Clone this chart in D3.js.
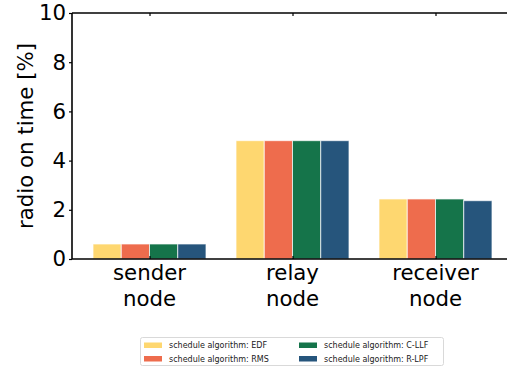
<!DOCTYPE html>
<html><head><meta charset="utf-8">
<script src="https://cdn.jsdelivr.net/npm/d3@7"></script>
<style>body{margin:0;background:#fff;} svg{display:block;font-family:"DejaVu Sans",sans-serif;}</style>
</head><body>
<svg id="c" width="507" height="367"></svg>
<script>
const categories = ["sender\nnode", "relay\nnode", "receiver\nnode"];
const seriesNames = ["schedule algorithm: EDF", "schedule algorithm: RMS", "schedule algorithm: C-LLF", "schedule algorithm: R-LPF"];
const seriesColors = ["#FED770", "#EE6C4D", "#15744A", "#26557C"];
const valuesEDF  = [0.61, 4.81, 2.44];
const valuesRMS  = [0.61, 4.81, 2.44];
const valuesCLLF = [0.61, 4.81, 2.44];
const valuesRLPF = [0.61, 4.81, 2.37];
const yTicks = [0, 2, 4, 6, 8, 10];
const series = [valuesEDF, valuesRMS, valuesCLLF, valuesRLPF];

const svg = d3.select("#c");
const L = 72, R = 507, T = 13, B = 259;
const FS = 21.3;

const x = d3.scaleLinear().domain([-0.542, 2.5]).range([L, R]);
const groupW = 0.79;
const sub = d3.scaleBand().domain(d3.range(series.length)).range([-groupW/2, groupW/2]);
const y = d3.scaleLinear().domain([0, 10]).range([B, T]);

// bars
series.forEach((vals, s) => {
  svg.append("g").selectAll("rect").data(vals).join("rect")
    .attr("x", (d, i) => x(i + sub(s)))
    .attr("width", x(sub.bandwidth()) - x(0))
    .attr("y", d => y(d))
    .attr("height", d => y(0) - y(d))
    .attr("fill", seriesColors[s])
    .attr("stroke", "#ffffff").attr("stroke-opacity", 0.7).attr("stroke-width", 1);
});

// y axis
const yAxis = d3.axisLeft(y).tickValues(yTicks).tickSize(3).tickPadding(3).tickFormat(d3.format("d"));
const gy = svg.append("g").attr("transform", `translate(${L},0)`).call(yAxis);
gy.select(".domain").remove();
gy.selectAll("line").attr("stroke", "#000").attr("stroke-width", 1.2);
gy.selectAll("text").attr("font-size", FS).attr("fill", "#000").attr("font-family", "DejaVu Sans");

// x axis ticks (inward, bottom and top)
const xAxisB = d3.axisBottom(x).tickValues([0, 1, 2]).tickSize(-3).tickFormat("");
const gxb = svg.append("g").attr("transform", `translate(0,${B})`).call(xAxisB);
gxb.select(".domain").remove();
gxb.selectAll("line").attr("stroke", "#000").attr("stroke-width", 1.2);
const xAxisT = d3.axisTop(x).tickValues([0, 1, 2]).tickSize(-3).tickFormat("");
const gxt = svg.append("g").attr("transform", `translate(0,${T})`).call(xAxisT);
gxt.select(".domain").remove();
gxt.selectAll("line").attr("stroke", "#000").attr("stroke-width", 1.2);

// spines
svg.append("line").attr("x1", L).attr("x2", L).attr("y1", T).attr("y2", B).attr("stroke", "#000").attr("stroke-width", 1.6);
svg.append("line").attr("x1", L).attr("x2", R).attr("y1", B).attr("y2", B).attr("stroke", "#000").attr("stroke-width", 1.6);
svg.append("line").attr("x1", L).attr("x2", R).attr("y1", T).attr("y2", T).attr("stroke", "#000").attr("stroke-width", 1.6);

// category labels
categories.forEach((c, i) => {
  const t = svg.append("text").attr("text-anchor", "middle").attr("font-size", FS).attr("fill", "#000");
  c.split("\n").forEach((line, k) => {
    t.append("tspan").attr("x", x(i)).attr("y", 280 + k * 25.5).text(line);
  });
});

// y label
svg.append("text").attr("transform", `translate(33,${(T + B) / 2}) rotate(-90)`)
  .attr("text-anchor", "middle").attr("font-size", FS).attr("fill", "#000").text("radio on time [%]");

// legend
const lg = svg.append("g");
lg.append("rect").attr("x", 140.5).attr("y", 337.5).attr("width", 303).attr("height", 28)
  .attr("rx", 2).attr("fill", "#fff").attr("stroke", "#d9d9d9").attr("stroke-width", 1);
const cols = [144, 299], rows = [345, 358.5];
seriesNames.forEach((n, s) => {
  const cx = cols[Math.floor(s / 2)], cy = rows[s % 2];
  lg.append("rect").attr("x", cx).attr("y", cy - 2.5).attr("width", 18).attr("height", 5.5).attr("fill", seriesColors[s]);
  lg.append("text").attr("x", cx + 25).attr("y", cy + 3).attr("font-size", 8).attr("fill", "#222").text(n);
});
</script>
</body></html>
